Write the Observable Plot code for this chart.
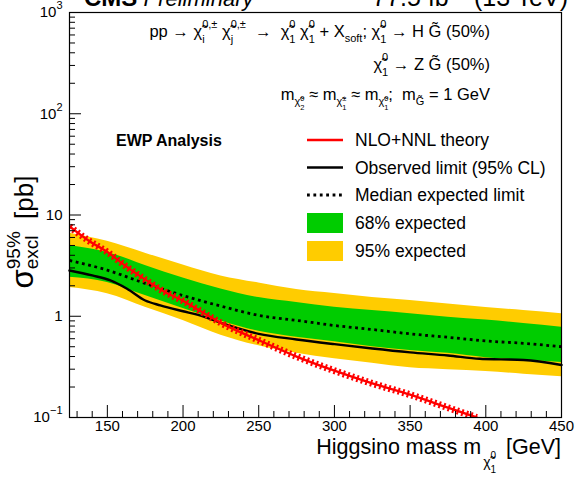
<!DOCTYPE html>
<html><head><meta charset="utf-8">
<script src="https://cdn.jsdelivr.net/npm/d3@7"></script>
<script src="https://cdn.jsdelivr.net/npm/@observablehq/plot@0.6"></script>
<style>
body{margin:0;background:#fff}
#chart svg{font-family:"Liberation Sans",Arial,Helvetica,sans-serif}
</style>
</head><body><div id="chart"></div>
<script>
// ---- data ----
const mass      = [125, 150, 175, 200, 225, 250, 275, 300, 325, 350, 375, 400, 425, 450];
const band95Hi  = [6.6, 5.5, 4.2, 3.2, 2.5, 2.13, 1.84, 1.68, 1.53, 1.43, 1.32, 1.22, 1.14, 1.06];
const band68Hi  = [5.0, 4.27, 3.18, 2.38, 1.86, 1.53, 1.37, 1.23, 1.14, 1.06, 0.98, 0.92, 0.85, 0.78];
const expected  = [3.56, 2.85, 2.11, 1.60, 1.26, 1.02, 0.91, 0.81, 0.74, 0.67, 0.62, 0.57, 0.54, 0.50];
const band68Lo  = [2.43, 2.16, 1.60, 1.19, 0.90, 0.71, 0.62, 0.56, 0.50, 0.46, 0.43, 0.39, 0.37, 0.35];
const band95Lo  = [1.92, 1.67, 1.23, 0.91, 0.65, 0.51, 0.43, 0.38, 0.344, 0.31, 0.297, 0.285, 0.268, 0.253];

const obsMass   = [125, 140, 152, 163, 175, 185, 200, 210, 225, 250, 275, 300, 325, 350, 375, 396, 410, 425, 450];
const observed  = [2.83, 2.53, 2.26, 1.87, 1.43, 1.28, 1.12, 1.03, 0.86, 0.67, 0.59, 0.53, 0.48, 0.44, 0.41, 0.38, 0.375, 0.37, 0.33];

const thMass    = [125, 137.5, 150, 162.5, 175, 187.5, 200, 212.5, 225, 250, 275, 300, 325, 350, 375, 394];
const theory    = [7.7, 5.6, 4.3, 3.1, 2.3, 1.75, 1.42, 1.1, 0.86, 0.58, 0.40, 0.29, 0.217, 0.168, 0.125, 0.1];

const xMajor = [150, 200, 250, 300, 350, 400, 450];
const xMinor = [130, 140, 160, 170, 180, 190, 210, 220, 230, 240, 260, 270, 280, 290, 310, 320, 330, 340, 360, 370, 380, 390, 410, 420, 430, 440];
const yMajor = [0.1, 1, 10, 100, 1000];
const yMinor = [0.2,0.3,0.4,0.5,0.6,0.7,0.8,0.9, 2,3,4,5,6,7,8,9, 20,30,40,50,60,70,80,90, 200,300,400,500,600,700,800,900];
const yTickText = {0.1: "10|−1", 1: "1", 10: "10", 100: "10|2", 1000: "10|3"};

// tables
const band = mass.map((m, i) => ({m, y95lo: band95Lo[i], y95hi: band95Hi[i], y68lo: band68Lo[i], y68hi: band68Hi[i], exp: expected[i]}));
const obsT = obsMass.map((m, i) => ({m, v: observed[i]}));
const thT = thMass.map((m, i) => ({m, v: theory[i]}));

const W = 577, H = 478;
const ML = 69, MR = 16, MT = 12, MB = 61;
const fw = W - ML - MR, fh = H - MT - MB;

const plot = Plot.plot({
  width: W, height: H,
  marginLeft: ML, marginRight: MR, marginTop: MT, marginBottom: MB,
  style: {fontFamily: "Liberation Sans, Arial, sans-serif", background: "white", color: "black"},
  x: {domain: [125, 450]},
  y: {type: "log", domain: [0.1, 1000]},
  marks: [
    Plot.areaY(band, {x: "m", y1: "y95lo", y2: "y95hi", fill: "#ffcc00", curve: "monotone-x"}),
    Plot.areaY(band, {x: "m", y1: "y68lo", y2: "y68hi", fill: "#00cc00", curve: "monotone-x"}),
    Plot.line(band, {x: "m", y: "exp", stroke: "black", strokeWidth: 2.8, strokeDasharray: "2.8,3.6", strokeLinecap: "butt", curve: "monotone-x"}),
    Plot.line(obsT, {x: "m", y: "v", stroke: "black", strokeWidth: 2.4, curve: "monotone-x"}),
    Plot.line(thT, {x: "m", y: "v", stroke: "#ff0000", strokeWidth: 2.4, curve: "monotone-x", clip: true}),
    Plot.line(thT, {x: "m", y: "v", stroke: "#ff0000", strokeWidth: 7, strokeDasharray: "2,2.8", strokeLinecap: "butt", curve: "monotone-x", clip: true}),
    Plot.frame({stroke: "black", strokeWidth: 1.2}),
    Plot.tickX(xMajor, {x: d => d, insetTop: fh - 12, stroke: "black", strokeWidth: 1}),
    Plot.tickX(xMinor, {x: d => d, insetTop: fh - 6, stroke: "black", strokeWidth: 1}),
    Plot.tickY(yMajor, {y: d => d, insetRight: fw - 12, stroke: "black", strokeWidth: 1}),
    Plot.tickY(yMinor, {y: d => d, insetRight: fw - 6, stroke: "black", strokeWidth: 1}),
    Plot.axisX({ticks: xMajor, tickSize: 0, tickPadding: 3, fontSize: 15, label: null}),
    Plot.axisY({ticks: yMajor, tickSize: 0, tickPadding: 7, fontSize: 15, label: null, tickFormat: d => yTickText[d]})
  ]
});
document.getElementById("chart").appendChild(plot);

const svg = d3.select(plot);
const FONT = "Liberation Sans, Arial, sans-serif";

// y tick labels with superscripts
svg.selectAll('g[aria-label="y-axis tick label"] text').each(function() {
  const s = this.textContent;
  if (s.includes("|")) {
    const [b, e] = s.split("|");
    const t = d3.select(this);
    t.text(null);
    t.append("tspan").text(b);
    t.append("tspan").attr("dy", -8).attr("font-size", 11).text(e);
  }
});

// rich text helper: pieces laid out left to right, measured
function rich(x, y, pieces, opt = {}) {
  const g = svg.append("g").attr("font-family", FONT).attr("fill", "black").attr("text-anchor", "start");
  const base = opt.size || 15;
  let cx = 0;
  for (const p of pieces) {
    if (p.sup !== undefined || p.sub !== undefined) {
      let w = 0;
      const ss = p.ss || base * 0.65;
      if (p.sup !== undefined) {
        const t = g.append("text").attr("x", cx + (p.supDx || 0)).attr("y", p.supDy ?? -base * 0.42).attr("font-size", ss).text(p.sup);
        w = Math.max(w, t.node().getComputedTextLength() + (p.supDx || 0));
      }
      if (p.sub !== undefined) {
        const t = g.append("text").attr("x", cx + (p.subDx || 0)).attr("y", p.subDy ?? base * 0.3).attr("font-size", ss).text(p.sub);
        w = Math.max(w, t.node().getComputedTextLength() + (p.subDx || 0));
      }
      cx += w + (p.gap || 0);
    } else {
      const t = g.append("text").attr("x", cx).attr("y", p.dy || 0).attr("font-size", p.s || base).text(p.t);
      if (p.bold) t.attr("font-weight", "bold");
      if (p.italic) t.attr("font-style", "italic");
      cx += t.node().getComputedTextLength() + (p.gap || 0);
    }
  }
  const shift = opt.anchor === "end" ? -cx : opt.anchor === "middle" ? -cx / 2 : 0;
  if (opt.rotate) g.attr("transform", `translate(${x},${y}) rotate(${opt.rotate}) translate(${shift},0)`);
  else g.attr("transform", `translate(${x + shift},${y})`);
  return g;
}

const chi = "χ\u0303";
const S = (sup, sub) => ({sup, sub, ss: 11, supDy: -9, subDy: 6});
// header
rich(84, 6, [{t: "CMS", bold: true, s: 24}, {t: " Preliminary", italic: true, s: 22}], {size: 24});
rich(568, 6, [{t: "77.5 fb", s: 25}, {sup: "−1", ss: 16, supDy: -11}, {t: " (13 TeV)", s: 25}], {size: 25, anchor: "end"});

// process text
rich(490, 37, [
  {t: "pp → "}, {t: chi}, S("0,±", "i"), {t: " "},
  {t: chi}, S("0,±", "j"), {t: "  →  "},
  {t: chi}, S("0", "1"), {t: " "},
  {t: chi}, S("0", "1"), {t: " + X"},
  {sub: "soft", ss: 11, subDy: 5}, {t: "; "},
  {t: chi}, S("0", "1"), {t: " → H G\u0303 (50%)"}
], {size: 16.5, anchor: "end"});
rich(490, 70, [
  {t: chi}, S("0", "1"), {t: " → Z G\u0303 (50%)"}
], {size: 16.5, anchor: "end"});
rich(490, 100, [
  {t: "m"}, {t: chi, s: 11, dy: 5}, {sup: "0", sub: "2", ss: 7.5, supDy: 1, subDy: 10},
  {t: " ≈ m"}, {t: chi, s: 11, dy: 5}, {sup: "±", sub: "1", ss: 7.5, supDy: 1, subDy: 10},
  {t: " ≈ m"}, {t: chi, s: 11, dy: 5}, {sup: "0", sub: "1", ss: 7.5, supDy: 1, subDy: 10},
  {t: ";  m"}, {t: "G\u0303", s: 11, dy: 5}, {t: " = 1 GeV"}
], {size: 16.5, anchor: "end"});

// EWP Analysis
rich(116, 146, [{t: "EWP Analysis", bold: true, s: 16}], {size: 16});

// legend
const lg = svg.append("g").attr("text-anchor", "start");
const lx0 = 307, lx1 = 343, tx = 355;
const rows = [140, 167.5, 195, 223, 251];
lg.append("line").attr("x1", lx0).attr("x2", lx1).attr("y1", rows[0]).attr("y2", rows[0]).attr("stroke", "#ff0000").attr("stroke-width", 2.4);
lg.append("line").attr("x1", lx0).attr("x2", lx1).attr("y1", rows[1]).attr("y2", rows[1]).attr("stroke", "black").attr("stroke-width", 2.4);
lg.append("line").attr("x1", lx0).attr("x2", lx1).attr("y1", rows[2]).attr("y2", rows[2]).attr("stroke", "black").attr("stroke-width", 2.8).attr("stroke-dasharray", "2.8,3.6");
lg.append("rect").attr("x", lx0).attr("y", rows[3] - 10).attr("width", lx1 - lx0).attr("height", 20).attr("fill", "#00cc00");
lg.append("rect").attr("x", lx0).attr("y", rows[4] - 10).attr("width", lx1 - lx0).attr("height", 20).attr("fill", "#ffcc00");
const labels = ["NLO+NNL theory", "Observed limit (95% CL)", "Median expected limit", "68% expected", "95% expected"];
labels.forEach((s, i) => {
  lg.append("text").attr("x", tx).attr("y", rows[i] + 6).attr("font-family", FONT).attr("font-size", 17.5).attr("fill", "black").text(s);
});

// axis titles
rich(561, 454, [
  {t: "Higgsino mass m", s: 21.5, gap: 2}, {t: chi, s: 14, dy: 13},
  {sup: "0", sub: "1", ss: 10, supDy: 5, subDy: 19, gap: 4},
  {t: " [GeV]", s: 21.5}
], {size: 21.5, anchor: "end"});

rich(33, 232, [
  {t: "σ", s: 31}, {sup: "95%", sub: "excl", ss: 19, supDy: -13, subDy: 5, gap: 5}, {t: " [pb]", s: 26}
], {size: 26, anchor: "middle", rotate: -90});
</script>
</body></html>
